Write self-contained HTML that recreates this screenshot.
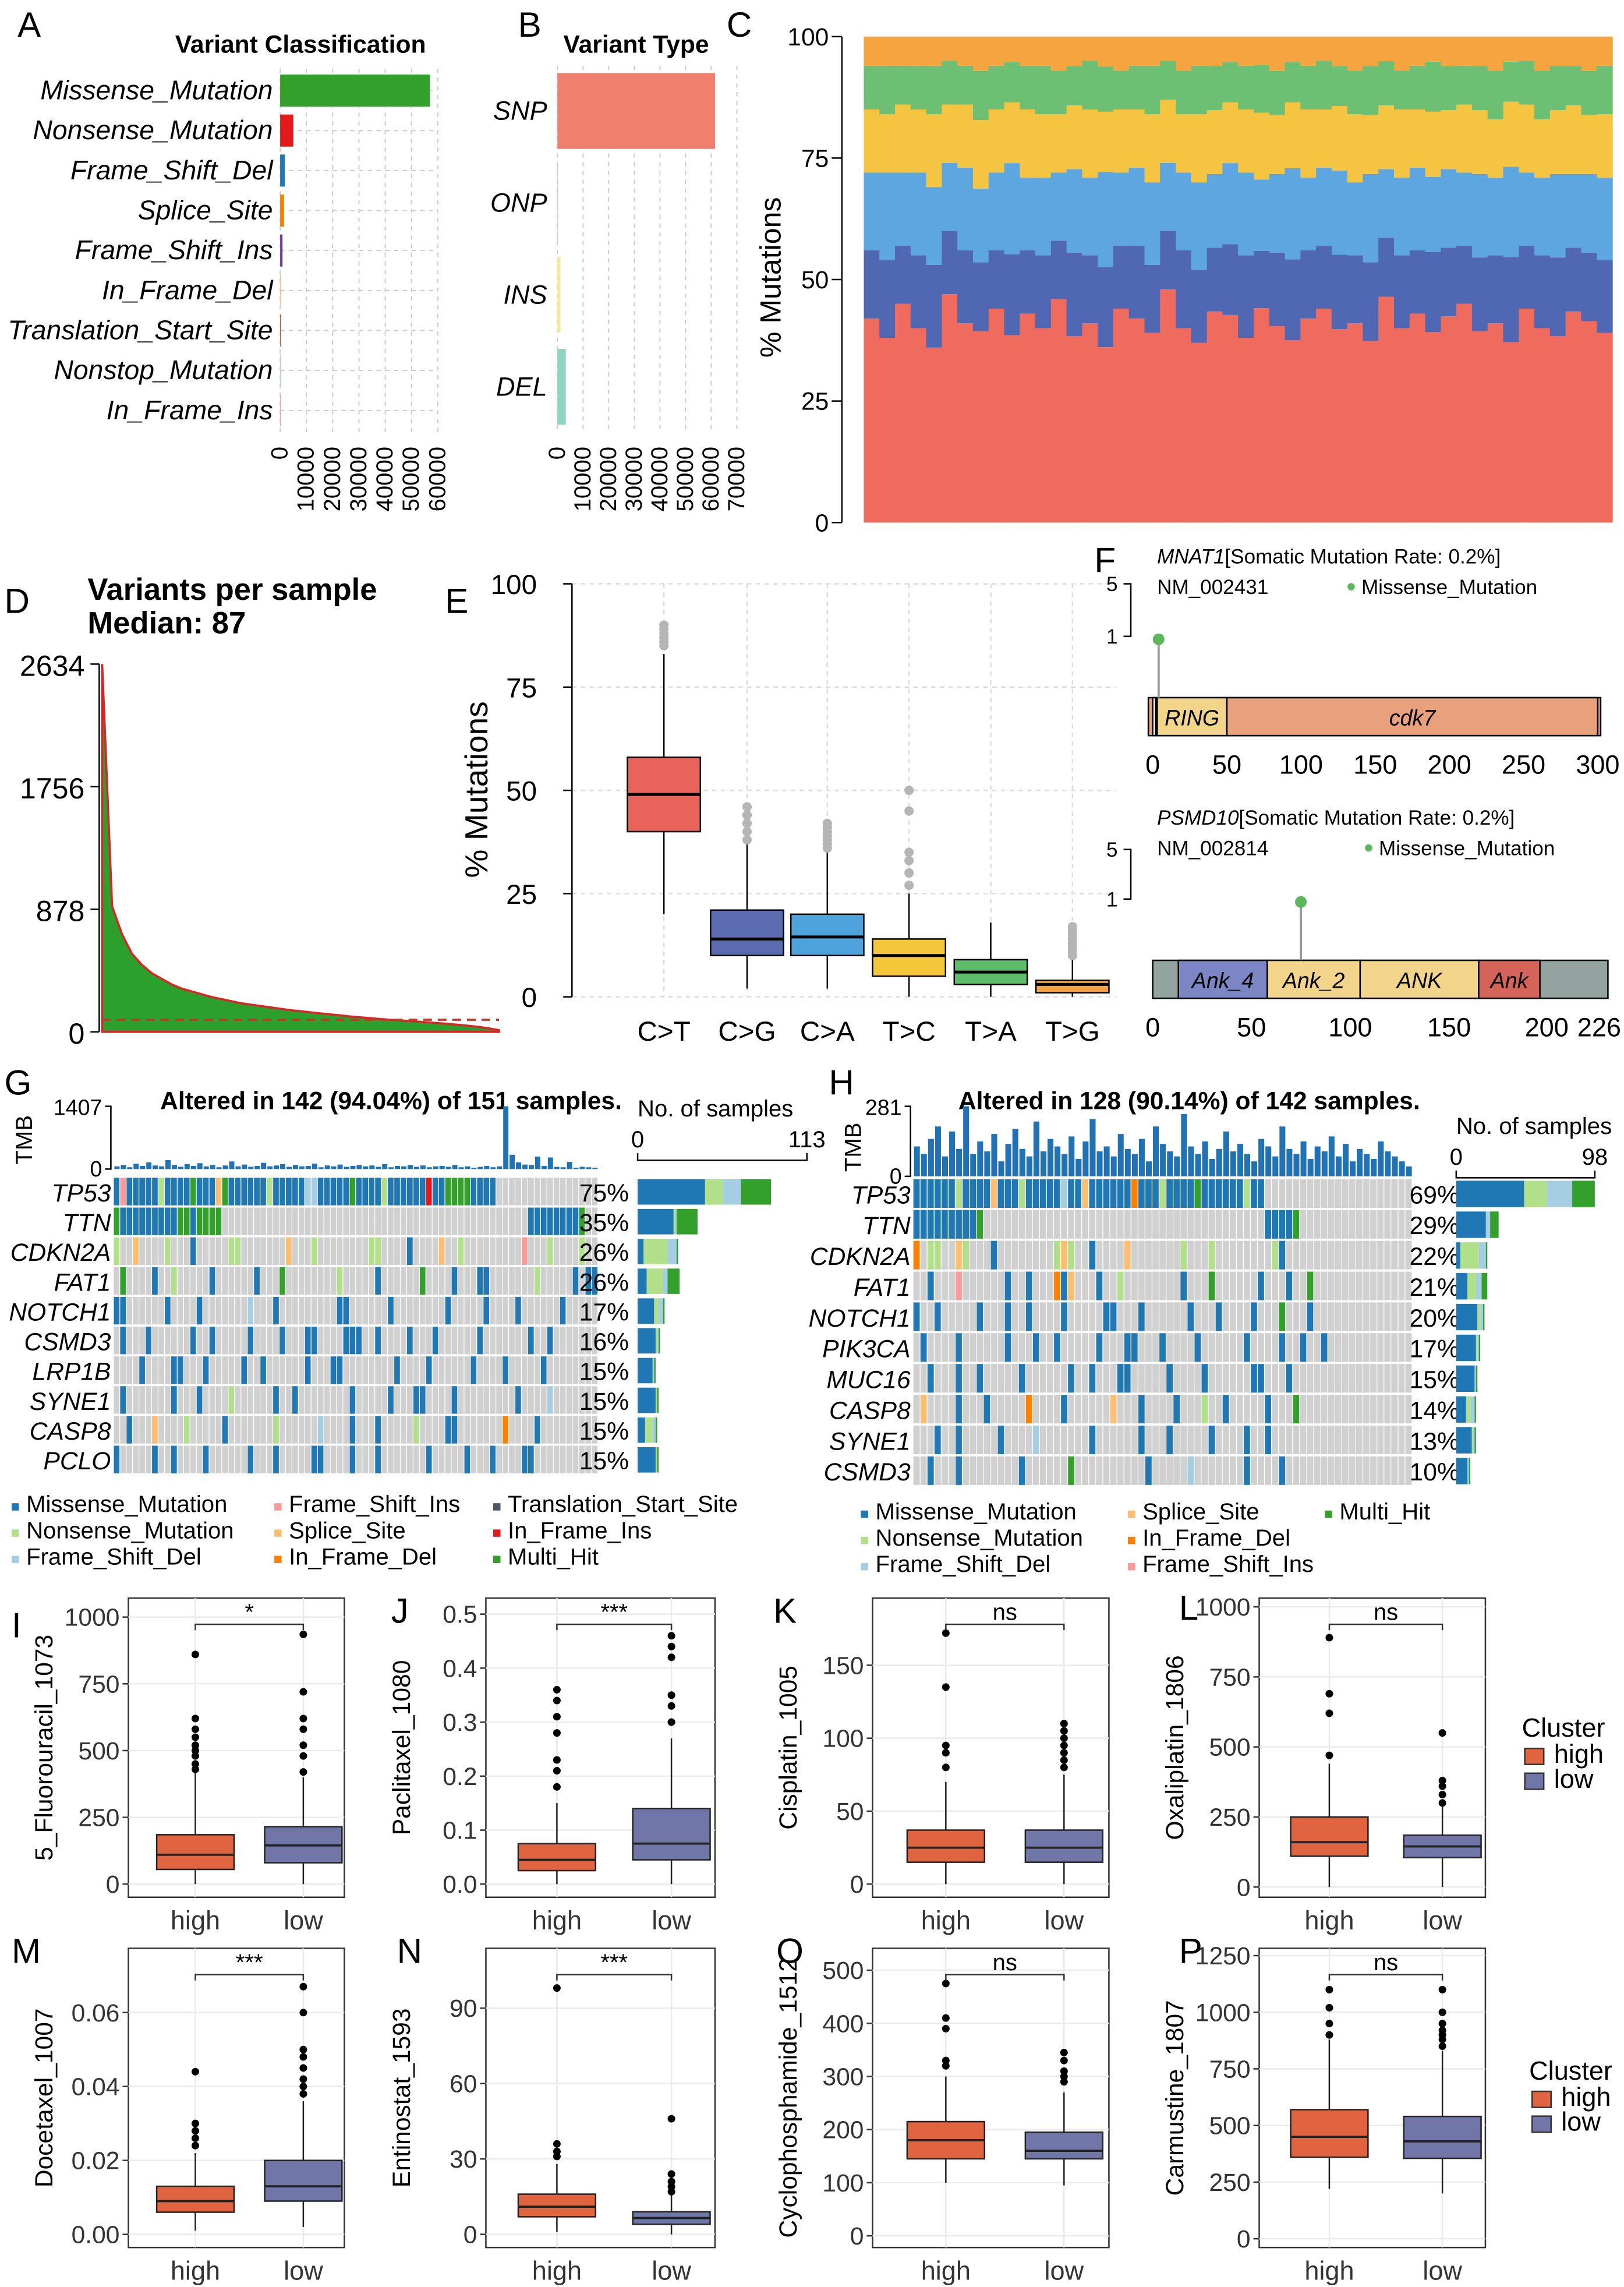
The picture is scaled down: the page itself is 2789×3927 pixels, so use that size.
<!DOCTYPE html>
<html><head><meta charset="utf-8">
<style>
body{margin:0;background:#fff}
svg{display:block;font-family:"Liberation Sans",Arial,sans-serif}
</style></head>
<body>
<svg id="fig" width="2789" height="3927" viewBox="0 0 1113 1567" xmlns="http://www.w3.org/2000/svg"><rect x="0" y="0" width="1113" height="1567" fill="#fff"/></svg>
<script>
// ---------- DATA ----------
const vcCats=['Missense_Mutation','Nonsense_Mutation','Frame_Shift_Del','Splice_Site','Frame_Shift_Ins','In_Frame_Del','Translation_Start_Site','Nonstop_Mutation','In_Frame_Ins'];
const vcVals=[57000,5000,1800,1500,900,300,150,100,80];
const vcTicks=[0,10000,20000,30000,40000,50000,60000];
const vtCats=['SNP','ONP','INS','DEL'];
const vtVals=[61500,50,1200,3300];
const vtTicks=[0,10000,20000,30000,40000,50000,60000,70000];
const spCT=[42,38,45,40,36,47,41,39,44,37,43,40,46,38,41,35,44,42,39,48,40,37,43,41,38,45,40,36,42,44,39,41,37,46,40,43,38,42,45,39,41,36,44,40,38,43,41,39];
const spCG=[14,16,12,15,17,13,15,14,12,16,13,15,12,17,14,16,13,15,14,12,16,15,13,14,17,12,15,16,14,13,15,14,16,12,15,13,16,14,12,15,14,17,13,15,16,13,14,15];
const spCA=[16,18,15,17,16,14,17,15,16,18,15,16,14,17,16,19,15,16,17,14,16,18,15,16,17,15,16,18,15,16,17,15,18,14,16,17,15,16,15,17,16,18,15,16,17,15,16,17];
const spTC=[13,12,14,13,15,12,13,14,13,12,14,13,12,13,14,12,13,12,14,13,12,14,13,12,13,14,12,13,14,12,13,14,12,13,14,12,13,12,14,13,12,13,14,12,13,14,12,13];
const spTA=[9,10,8,9,10,9,8,10,9,8,9,10,9,8,10,9,8,9,10,8,9,10,9,8,9,10,9,8,9,10,8,9,10,9,8,9,10,9,8,9,10,8,9,10,9,8,9,10];
const spTG=[6,6,6,6,6,5,6,7,6,5,6,6,7,6,5,6,7,6,6,5,7,6,6,5,6,6,7,5,6,5,6,7,6,5,7,6,5,6,6,6,7,5,5,7,6,6,7,6];
const cTicks=[0,25,50,75,100];
const vpsVals=[2634,900,700,560,480,420,380,340,310,290,270,250,235,220,205,195,185,175,165,155,148,140,132,125,118,110,104,98,92,87,82,77,72,67,62,56,50,43,35,25,12];
const vpsTicks=[0,878,1756,2634];
const vpsMedian=87;
const tiCats=['C>T','C>G','C>A','T>C','T>A','T>G'];
const tiStats=[[20,40,49,58,83],[2,10,14,21,37],[2,10,14.5,20,35],[0,5,10,14,25],[0,3,6,9,18],[0,1,3,4,9]];
const tiOut=[[85,86,87,88,89,90],[38,40,42,44,46],[36,37,38,39,40,41,42],[27,30,33,35,45,50],[],[10,11,12,13,14,15,16,17]];
const tiTicks=[0,25,50,75,100];
const gGenes=['TP53','TTN','CDKN2A','FAT1','NOTCH1','CSMD3','LRP1B','SYNE1','CASP8','PCLO'];
const gPct=['75%','35%','26%','26%','17%','16%','15%','15%','15%','15%'];
const gRows=[
"1m1f5m1n4m1x3m1s1x6m1n4m1m2d5m1x4m1n6m1p2m4x4m18.",
"1x9m2x1m4x48.8m1x7.",
"1n2.1s4.1n3.1m5.2n7.1s3.1n8.2n4.1m4.1s2.1n9.1f3.1n4.1n5.",
"1.1x4.1m2.1n5.1m6.1m3.1x8.1n5.1m6.1x4.1m3.2m7.1n5.1m1.2m3.2x",
"2m6.1m4.1m7.1d3.1m9.2m6.1m8.1m5.1m4.1m6.1m5.1m",
"1.1m3.1m6.1m2.1m5.1m4.1m3.2m4.3m2.1m4.1m3.1m6.1m7.1m2.1m",
"4.1m4.2m3.1m5.1m2.1m6.1m3.2m8.1m4.1m6.1m4.1m5.1m",
"1.1m7.1m3.1m4.1n6.1m2.1m8.1m5.1m3.2m4.1m9.1m4.1d",
"2.1m3.1s4.1n5.1m7.1n6.1d4.1m3.1m5.1n4.2m7.1i4.1m",
"1m5.1m2.1m4.1m6.1m3.1m5.2m4.1m3.1m7.1m5.1m3.1m4.2m"];
const gTmb=[60,90,40,120,70,150,80,60,200,90,50,110,70,130,60,90,40,80,170,60,100,50,70,140,60,80,110,50,90,60,70,120,40,80,60,100,50,70,90,60,80,50,110,40,70,60,90,50,80,40,60,70,50,90,40,60,30,50,70,40,60,1407,320,150,100,90,280,70,260,50,40,160,30,50,40,30];
const gBarMis=[45,24,4,6,11,12,10,12,5,12],gBarNon=[12,1,16,11,3,1,0,1,5,1],gBarOther=[12,1,6,3,3,1,1,0,2,0],gBarMulti=[20,14,1,8,1,1,1,1,1,1];
const hGenes=['TP53','TTN','CDKN2A','FAT1','NOTCH1','PIK3CA','MUC16','CASP8','SYNE1','CSMD3'];
const hPct=['69%','29%','22%','21%','20%','17%','15%','14%','13%','10%'];
const hRows=[
"6m1n4m1s3m1n5m1d2m1s6m1i3m1n4m1x6m1n2m22.",
"9m1x40.4m1x16.",
"1i1.2n2.1s1n3.1m8.1n1s1n2.1m4.1s7.1n3.1n8.1n1m",
"2.1m3.1f6.1m2.1m3.1i1m1s3.1m2.1n8.1m3.1x6.1m3.1m2.1x",
"1m2.1m5.1m3.1m2.1m4.1m5.2m3.1m6.1m3.1m4.1m3.1x3.1m",
"1.1m4.1m6.1m3.1m2.1m5.1m3.2m3.1m4.1m6.1m4.1m2.1m2.1m",
"2.1m3.1m2.1m5.1m6.1m2.1m3.2m5.1m4.1m6.2m3.1m",
"1.1s4.1m3.1m5.1i4.1m6.1s3.1m4.1m3.1n2.1m5.1m3.1x",
"3.1m2.1m5.1m4.1d7.1m6.1m3.1m5.1m4.1m2.1m",
"2.1m3.1m8.1m6.1x10.1m5.1d7.1m4.1m"];
const hTmb=[120,90,150,200,80,180,110,281,90,140,100,170,60,130,190,110,80,220,100,150,120,90,160,70,140,230,100,120,80,170,110,90,150,60,200,130,100,80,250,120,90,140,70,110,180,100,130,90,60,150,120,80,200,110,90,140,70,120,100,160,80,130,60,110,90,70,140,100,80,60,40];
const hBarMis=[48,21,3,8,15,14,13,7,11,8],hBarNon=[16,0,13,6,2,1,0,3,1,0],hBarOther=[18,3,5,4,2,1,1,3,1,1],hBarMulti=[16,6,1,4,1,1,1,1,1,1];
const drugLetters=['I','J','K','L','M','N','O','P'];
const drugTitles=['5_Fluorouracil_1073','Paclitaxel_1080','Cisplatin_1005','Oxaliplatin_1806','Docetaxel_1007','Entinostat_1593','Cyclophosphamide_1512','Carmustine_1807'];
const drugSig=['*','***','ns','ns','***','***','ns','ns'];
const highStats=[[0,55,110,185,420],[0,.025,.045,.075,.15],[0,15,25,37,70],[0,110,160,250,440],[.001,.006,.009,.013,.022],[1,7,11,16,28],[100,145,180,215,300],[220,360,450,570,880]];
const lowStats=[[0,80,145,215,400],[0,.045,.075,.14,.27],[0,15,25,37,75],[0,105,145,185,290],[.002,.009,.013,.02,.036],[0,4,6.5,9,16],[95,145,160,195,270],[200,355,430,540,830]];
const highOut=[[430,450,480,500,520,550,580,620,860],[.18,.21,.23,.28,.31,.34,.36],[80,90,95,135,172],[470,620,690,890],[.024,.026,.028,.03,.044],[31,33,36,98],[320,330,390,410,475],[900,950,1020,1100]];
const lowOut=[[420,480,520,580,620,720,935],[.3,.33,.35,.42,.44,.46],[80,85,90,95,100,105,110],[300,330,360,380,550],[.038,.04,.042,.045,.048,.05,.06,.067],[17,19,21,24,46],[290,300,310,330,345],[850,880,900,920,950,1000,1100]];
const yTickVals=[[0,250,500,750,1000],[0,.1,.2,.3,.4,.5],[0,50,100,150],[0,250,500,750,1000],[0,.02,.04,.06],[0,30,60,90],[0,100,200,300,400,500],[0,250,500,750,1000,1250]];
const yTickLabels=[['0','250','500','750','1000'],['0.0','0.1','0.2','0.3','0.4','0.5'],['0','50','100','150'],['0','250','500','750','1000'],['0.00','0.02','0.04','0.06'],['0','30','60','90'],['0','100','200','300','400','500'],['0','250','500','750','1000','1250']];

// ---------- HELPERS ----------
const NS='http://www.w3.org/2000/svg';
const svg=document.getElementById('fig');
function mk(tag,a,p){const e=document.createElementNS(NS,tag);for(const k in a)e.setAttribute(k,a[k]);(p||svg).appendChild(e);return e;}
function tx(x,y,s,a,p){const e=mk('text',Object.assign({x:x,y:y},a||{}),p);e.textContent=s;return e;}
function grp(name){const g=mk('g',{});


return g;}
const codeCol={m:'#1f78b4',n:'#b2df8a',d:'#a6cee3',f:'#fb9a99',s:'#fdbf6f',i:'#ff7f00',t:'#4d5566',p:'#e31a1c',x:'#33a02c','.':'#d0d0d0'};
function rle(s){const out=[];s.replace(/(\d+)(\D)/g,(m,n,c)=>{for(let k=0;k<+n;k++)out.push(c);});return out;}

// ---------- PANEL A ----------
(function(){
const g=grp('panel-a-variant-classification');
const x0=192,x1=300,yt=47,yb=296;const xs=v=>x0+v/60000*(x1-x0);
let t=tx(12,25,'A',{'font-size':24},g);


t=tx(206,36,'Variant Classification',{'font-size':17,'font-weight':'bold','text-anchor':'middle'},g);


vcTicks.forEach(v=>{const l=mk('line',{x1:xs(v),x2:xs(v),y1:yt,y2:yb,stroke:'#ccc','stroke-dasharray':'3,3','stroke-width':0.8},g);


const lb=tx(xs(v)+5,306,String(v),{'font-size':16,'text-anchor':'end',transform:`rotate(-90 ${xs(v)+5} 306)`},g);

});
const cols=['#33a02c','#e31a1c','#1f78b4','#ff7f00','#6a3d9a','#fdbf6f','#b15928','#a6cee3','#fb9a99'];
vcCats.forEach((c,i)=>{const y=62+i*27.4;
const gl=mk('line',{x1:x0,x2:x1,y1:y,y2:y,stroke:'#ccc','stroke-dasharray':'3,3','stroke-width':0.8},g);


const r=mk('rect',{x:x0,y:y-11,width:Math.max(0.6,xs(vcVals[i])-x0),height:22,fill:cols[i]},g);


const l=tx(187,y+6,c,{'font-size':18.5,'font-style':'italic','text-anchor':'end'},g);

});
})();

// ---------- PANEL B ----------
(function(){
const g=grp('panel-b-variant-type');
const x0=382,x1=505,yt=45,yb=296;const xs=v=>x0+v/70000*(x1-x0);
let t=tx(355,25,'B',{'font-size':24},g);


t=tx(436,36,'Variant Type',{'font-size':17,'font-weight':'bold','text-anchor':'middle'},g);


vtTicks.forEach(v=>{const l=mk('line',{x1:xs(v),x2:xs(v),y1:yt,y2:yb,stroke:'#ccc','stroke-dasharray':'3,3','stroke-width':0.8},g);


const lb=tx(xs(v)+5,306,String(v),{'font-size':16,'text-anchor':'end',transform:`rotate(-90 ${xs(v)+5} 306)`},g);

});
const cols=['#f07f6e','#cccccc','#f5e99a','#8fd3c1'];
vtCats.forEach((c,i)=>{const y=76+i*63;
const r=mk('rect',{x:x0,y:y-26,width:Math.max(0.5,xs(vtVals[i])-x0),height:52,fill:cols[i]},g);


const l=tx(375,y+6,c,{'font-size':18,'font-style':'italic','text-anchor':'end'},g);

});
})();

// ---------- PANEL C ----------
(function(){
const g=grp('panel-c-spectrum-stacked');
const x0=592,x1=1105,y0=358,y1=25;const ys=v=>y0-(v/100)*(y0-y1);
let t=tx(498,25,'C',{'font-size':24},g);


const ax=mk('line',{x1:577,x2:577,y1:y1,y2:y0,stroke:'#000','stroke-width':1},g);


cTicks.forEach(v=>{const l=mk('line',{x1:570,x2:577,y1:ys(v),y2:ys(v),stroke:'#000'},g);


const lb=tx(568,ys(v)+6,String(v),{'font-size':17,'text-anchor':'end'},g);

});
t=tx(535,190,'% Mutations',{'font-size':20,'text-anchor':'middle',transform:'rotate(-90 535 190)'},g);


const series=[spCT,spCG,spCA,spTC,spTA,spTG];
const cols=['#ee6b5e','#5067b3','#5da6df','#f5c542','#6cbf73','#f5a440'];
const n=spCT.length,w=(x1-x0)/n;
for(let i=0;i<n;i++){let tot=0;series.forEach(s=>tot+=s[i]);let acc=0;
series.forEach((s,k)=>{const v=s[i]/tot*100;const r=mk('rect',{x:x0+i*w,y:ys(acc+v),width:w+0.3,height:ys(acc)-ys(acc+v),fill:cols[k]},g);


acc+=v;});}
})();

// ---------- PANEL D ----------
(function(){
const g=grp('panel-d-variants-per-sample');
const x0=70,x1=342,y0=707,y1=455;const ys=v=>y0-v/2634*(y0-y1);
let t=tx(3,420,'D',{'font-size':24},g);


t=tx(60,411,'Variants per sample',{'font-size':21,'font-weight':'bold'},g);


t=tx(60,434,'Median: '+vpsMedian,{'font-size':21,'font-weight':'bold'},g);


const ax=mk('line',{x1:68,x2:68,y1:y1,y2:y0,stroke:'#000'},g);


vpsTicks.forEach(v=>{const l=mk('line',{x1:62,x2:68,y1:ys(v),y2:ys(v),stroke:'#000'},g);


const lb=tx(58,ys(v)+8,String(v),{'font-size':20,'text-anchor':'end'},g);

});
const n=vpsVals.length;const xs=i=>x0+i/(n-1)*(x1-x0);
let d=`M${x0},${y0} `;vpsVals.forEach((v,i)=>{d+=`L${xs(i)},${ys(v)} `;});d+=`L${x1},${y0}Z`;
const a=mk('path',{d:d,fill:'#2ca02c',stroke:'#d62728','stroke-width':1.5},g);


const m=mk('line',{x1:x0,x2:x1,y1:ys(vpsMedian),y2:ys(vpsMedian),stroke:'#c0392b','stroke-dasharray':'6,4','stroke-width':1.5},g);


})();

// ---------- PANEL E ----------
(function(){
const g=grp('panel-e-titv-boxplot');
const x0=392,x1=765,y0=683,y1=400;const ys=v=>y0-v/100*(y0-y1);
const cx=[455,512,567,623,679,735];
let t=tx(305,420,'E',{'font-size':24},g);


tiTicks.forEach(v=>{const l=mk('line',{x1:x0,x2:x1,y1:ys(v),y2:ys(v),stroke:'#ddd','stroke-dasharray':'3,3'},g);


const tk=mk('line',{x1:x0-6,x2:x0,y1:ys(v),y2:ys(v),stroke:'#000'},g);


const lb=tx(x0-24,ys(v)+7,String(v),{'font-size':19,'text-anchor':'end'},g);

});
cx.forEach(c=>{const l=mk('line',{x1:c,x2:c,y1:y1,y2:y0,stroke:'#ddd','stroke-dasharray':'3,3'},g);

});
const ax=mk('line',{x1:x0,x2:x0,y1:y1,y2:y0,stroke:'#000'},g);


t=tx(334,541,'% Mutations',{'font-size':22,'text-anchor':'middle',transform:'rotate(-90 334 541)'},g);


const cols=['#e8635a','#5a6bb0','#4ea3dd','#f5c73a','#5dbd6a','#f5a142'];
tiCats.forEach((c,i)=>{const s=tiStats[i],x=cx[i],w=50;
const wl=mk('line',{x1:x,x2:x,y1:ys(s[0]),y2:ys(s[4]),stroke:'#000'},g);


const b=mk('rect',{x:x-w/2,y:ys(s[3]),width:w,height:ys(s[1])-ys(s[3]),fill:cols[i],stroke:'#000'},g);


const md=mk('line',{x1:x-w/2,x2:x+w/2,y1:ys(s[2]),y2:ys(s[2]),stroke:'#000','stroke-width':2},g);


tiOut[i].forEach(v=>{const o=mk('circle',{cx:x,cy:ys(v),r:3.2,fill:'#b5b5b5'},g);

});
const lb=tx(x,713,c,{'font-size':19,'text-anchor':'middle'},g);

});
})();

// ---------- PANEL F ----------
(function(){
const g=grp('panel-f-lollipops');
let t=tx(750,392,'F',{'font-size':24},g);


function lolli(gene,nm,yT,yTop,y5,y1,lx,px0,px1,unit,pos,domains,ticks){
const tt=mk('text',{x:793,y:yT,'font-size':14},g);


const s1=mk('tspan',{'font-style':'italic'},tt);s1.textContent=gene;
const s2=mk('tspan',{},tt);s2.textContent='[Somatic Mutation Rate: 0.2%]';
const n=tx(793,yT+21,nm,{'font-size':14},g);


const ld=mk('circle',{cx:lx,cy:yT+16,r:2.5,fill:'#5cb85c'},g);


const lt=tx(lx+7,yT+21,'Missense_Mutation',{'font-size':14},g);


const ax=mk('path',{d:`M770,${y5}H775V${y1}H770`,fill:'none',stroke:'#000'},g);


const a5=tx(766,y5+5,'5',{'font-size':14,'text-anchor':'end'},g);


const a1=tx(766,y1+5,'1',{'font-size':14,'text-anchor':'end'},g);


const xs=v=>px0+v*unit;
const bar=mk('rect',{x:domains.bx0,y:yTop,width:domains.bx1-domains.bx0,height:26,fill:domains.bg,stroke:'#000'},g);


domains.list.forEach(d=>{const r=mk('rect',{x:xs(d[0]),y:yTop,width:xs(d[1])-xs(d[0]),height:26,fill:d[3],stroke:'#000'},g);


if(d[2]){const l=tx((xs(d[0])+xs(d[1]))/2,yTop+19,d[2],{'font-size':15,'font-style':'italic','text-anchor':'middle'},g);

}});
const st=mk('line',{x1:xs(pos),x2:xs(pos),y1:y1+2,y2:yTop,stroke:'#999','stroke-width':1.5},g);


const dt=mk('circle',{cx:xs(pos),cy:y1+2,r:4,fill:'#5cb85c'},g);


ticks.forEach(v=>{const l=tx(xs(v),yTop+52,String(v),{'font-size':18,'text-anchor':'middle'},g);

});}
lolli('MNAT1','NM_002431',386,478,400,436,926,790,1095,305/300,4,{bx0:787,bx1:1097,bg:'#e9a07d',list:[[0,2,'','#fff'],[3,50,'RING','#f2d58a'],[50,300,'cdk7','#e9a07d']]},[0,50,100,150,200,250,300]);
lolli('PSMD10','NM_002814',565,658,582,616,938,790,1096,306/226,75,{bx0:790,bx1:1102,bg:'#93a3a0',list:[[13,58,'Ank_4','#7d86c4'],[58,105,'Ank_2','#f2d58a'],[105,165,'ANK','#f2d58a'],[165,196,'Ank','#d4645a']]},[0,50,100,150,226]);
const x200=tx(1060,710,'200',{'font-size':18,'text-anchor':'middle'},g);


})();

// ---------- ONCOPLOTS ----------
function onco(o){
const g=grp(o.name);
let t=tx(o.letterX,750,o.letter,{'font-size':24},g);


t=tx(o.titleX,760,o.title,{'font-size':17,'font-weight':'bold','text-anchor':'middle'},g);


const ncol=o.ncol;const cw=(o.x1-o.x0)/ncol;
const tm=Math.max(...o.tmb);const tw=(o.x1-o.x0)/o.tmb.length;
const tys=v=>o.tmb0-v/tm*(o.tmb0-o.tmbTop);
const tax=mk('path',{d:`M${o.x0-6},${o.tmbTop}H${o.x0-2}V${o.tmb0}H${o.x0-6}`,fill:'none',stroke:'#000'},g);


let l=tx(o.x0-8,o.tmbTop+6,String(tm),{'font-size':15,'text-anchor':'end'},g);


l=tx(o.x0-8,o.tmb0+5,'0',{'font-size':15,'text-anchor':'end'},g);


l=tx(o.tmbLblX,o.tmb0-20,'TMB',{'font-size':16,'text-anchor':'middle',transform:`rotate(-90 ${o.tmbLblX} ${o.tmb0-20})`},g);


o.tmb.forEach((v,i)=>{const r=mk('rect',{x:o.x0+i*tw+0.4,y:tys(v),width:tw-0.8,height:o.tmb0-tys(v),fill:'#2171b5'},g);

});
o.genes.forEach((gn,gi)=>{const codes=rle(o.rows[gi]);const y=o.y0+gi*o.rh;
for(let c=0;c<ncol;c++){const code=codes[c]||'.';
const r=mk('rect',{x:o.x0+c*cw,y:y,width:cw-0.5,height:o.rh-1.5,fill:codeCol[code]},g);

}
const gl=tx(o.x0-2,y+o.rh/2+6,gn,{'font-size':17,'font-style':'italic','text-anchor':'end'},g);


const pl=tx(o.pctX,y+o.rh/2+6,o.pct[gi],{'font-size':17,'text-anchor':'middle'},g);


let acc=0;const parts=[[o.mis[gi],'#1f78b4'],[o.non[gi],'#b2df8a'],[o.oth[gi],'#a6cee3'],[o.mul[gi],'#33a02c']];
parts.forEach(p=>{const r=mk('rect',{x:o.bx0+acc*o.bs,y:y+1,width:p[0]*o.bs,height:o.rh-3,fill:p[1]},g);


acc+=p[0];});});
const bax=mk('path',{d:`M${o.bx0},${o.baxY-5}V${o.baxY}H${o.bx0+o.bmax*o.bs}V${o.baxY-5}`,fill:'none',stroke:'#000'},g);


l=tx(o.bx0,o.baxY-30,'No. of samples',{'font-size':16},g);


l=tx(o.bx0,o.baxY-9,'0',{'font-size':16,'text-anchor':'middle'},g);


l=tx(o.bx0+o.bmax*o.bs,o.baxY-9,String(o.bmax),{'font-size':16,'text-anchor':'middle'},g);


o.legend.forEach(e=>{const r=mk('rect',{x:e[0],y:e[1]-6,width:5,height:5,fill:codeCol[e[2]]},g);


const lt=tx(e[0]+10,e[1],e[3],{'font-size':16},g);

});
}
onco({name:'panel-g-oncoplot',letter:'G',letterX:3,title:'Altered in 142 (94.04%) of 151 samples.',titleX:268,x0:78,x1:410,ncol:76,tmb:gTmb,tmb0:801,tmbTop:758,tmbLblX:22,genes:gGenes,rows:gRows,pct:gPct,y0:807,rh:20.4,pctX:414,mis:gBarMis,non:gBarNon,oth:gBarOther,mul:gBarMulti,bx0:437,bs:116/113,bmax:113,baxY:795,
legend:[[8,1036,'m','Missense_Mutation'],[8,1054,'n','Nonsense_Mutation'],[8,1072,'d','Frame_Shift_Del'],[188,1036,'f','Frame_Shift_Ins'],[188,1054,'s','Splice_Site'],[188,1072,'i','In_Frame_Del'],[338,1036,'t','Translation_Start_Site'],[338,1054,'p','In_Frame_Ins'],[338,1072,'x','Multi_Hit']]});
onco({name:'panel-h-oncoplot',letter:'H',letterX:568,title:'Altered in 128 (90.14%) of 142 samples.',titleX:815,x0:626,x1:968,ncol:71,tmb:hTmb,tmb0:806,tmbTop:758,tmbLblX:590,genes:hGenes,rows:hRows,pct:hPct,y0:808,rh:21.1,pctX:983,mis:hBarMis,non:hBarNon,oth:hBarOther,mul:hBarMulti,bx0:998,bs:95/98,bmax:98,baxY:807,
legend:[[590,1041,'m','Missense_Mutation'],[590,1059,'n','Nonsense_Mutation'],[590,1077,'d','Frame_Shift_Del'],[773,1041,'s','Splice_Site'],[773,1059,'i','In_Frame_Del'],[773,1077,'f','Frame_Shift_Ins'],[908,1041,'x','Multi_Hit']]});

// ---------- DRUG BOXPLOTS ----------
const drugLayout=[[88,236,1095,1300,1291,1108,8,1122],[333,490,1095,1300,1291,1106,268,1112],[598,760,1095,1300,1291,1141,530,1112],[863,1018,1095,1300,1293,1101,808,1110],
[88,236,1335,1540,1531,1379,8,1345],[333,490,1335,1540,1531,1376,272,1345],[598,760,1335,1540,1532,1350,532,1345],[863,1018,1335,1540,1534,1340,808,1345]];
drugTitles.forEach((title,p)=>{
const L=drugLayout[p];const g=grp('panel-'+drugLetters[p].toLowerCase()+'-boxplot');
const tv=yTickVals[p];const top=tv[tv.length-1];
const ys=v=>L[4]-v/top*(L[4]-L[5]);
const bg=mk('rect',{x:L[0],y:L[2],width:L[1]-L[0],height:L[3]-L[2],fill:'#fff',stroke:'#333','stroke-width':1},g);


const hx=L[0]+(L[1]-L[0])*0.31,lx=L[0]+(L[1]-L[0])*0.81;
[hx,lx].forEach(x=>{const gl=mk('line',{x1:x,x2:x,y1:L[2],y2:L[3],stroke:'#ebebeb'},g);

});
tv.forEach((v,k)=>{const gl=mk('line',{x1:L[0],x2:L[1],y1:ys(v),y2:ys(v),stroke:'#ebebeb'},g);


const tk=mk('line',{x1:L[0]-4,x2:L[0],y1:ys(v),y2:ys(v),stroke:'#333'},g);


const lb=tx(L[0]-6,ys(v)+6,yTickLabels[p][k],{'font-size':17,'text-anchor':'end',fill:'#333'},g);

});
let t=tx(L[6],L[7],drugLetters[p],{'font-size':24},g);


const tyc=(L[2]+L[3])/2,txc=L[0]-52;
t=tx(txc,tyc,title,{'font-size':17,'text-anchor':'middle',transform:`rotate(-90 ${txc} ${tyc})`},g);


[[hx,highStats[p],highOut[p],'#e0643f','high'],[lx,lowStats[p],lowOut[p],'#7176a8','low']].forEach(b=>{
const x=b[0],s=b[1],w=53;
const wl=mk('line',{x1:x,x2:x,y1:ys(s[0]),y2:ys(s[4]),stroke:'#222'},g);


const r=mk('rect',{x:x-w/2,y:ys(s[3]),width:w,height:ys(s[1])-ys(s[3]),fill:b[3],stroke:'#222'},g);


const md=mk('line',{x1:x-w/2,x2:x+w/2,y1:ys(s[2]),y2:ys(s[2]),stroke:'#222','stroke-width':1.5},g);


b[2].forEach(v=>{const c=mk('circle',{cx:x,cy:ys(v),r:2.6,fill:'#000'},g);

});
const xl=tx(x,L[3]+22,b[4],{'font-size':18,'text-anchor':'middle',fill:'#333'},g);

});
const by=L[2]+18;
const br=mk('path',{d:`M${hx},${by+4}V${by}H${lx}V${by+4}`,fill:'none',stroke:'#333'},g);


t=tx((hx+lx)/2,by-3,drugSig[p],{'font-size':16,'text-anchor':'middle'},g);


});
[[1043,1190],[1048,1425]].forEach(pos=>{const g=grp('cluster-legend');
let t=tx(pos[0],pos[1],'Cluster',{'font-size':18},g);


[['high','#e0643f'],['low','#7176a8']].forEach((e,k)=>{const y=pos[1]+18+k*17;
const r=mk('rect',{x:pos[0]+2,y:y-10,width:13,height:11,fill:e[1],stroke:'#333'},g);


const l=tx(pos[0]+22,y,e[0],{'font-size':18},g);

});});
</script>
</body></html>
